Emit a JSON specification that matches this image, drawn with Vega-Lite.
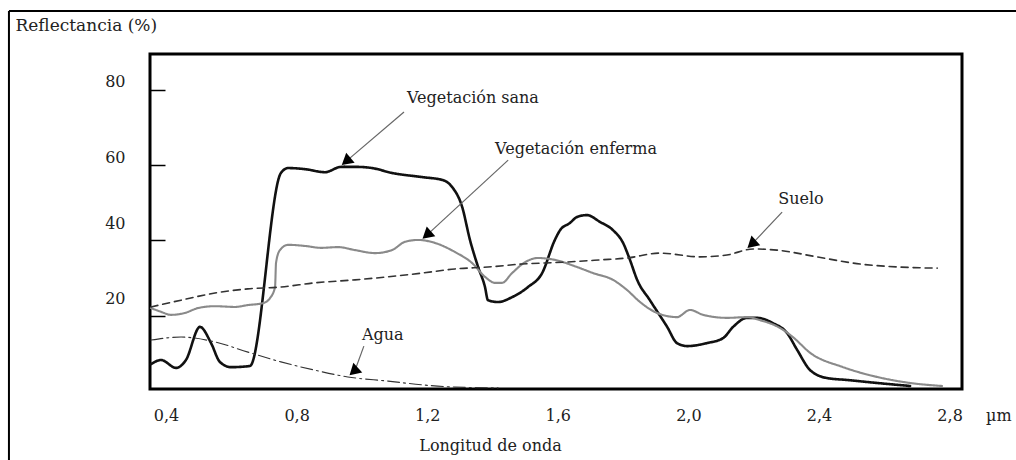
{
  "$schema": "https://vega.github.io/schema/vega-lite/v6.json",
  "width": 812,
  "height": 335,
  "autosize": {"type": "none"},
  "padding": {"left": 150, "top": 54, "right": 54, "bottom": 71},
  "background": "white",
  "data": {"values": [{}]},
  "config": {
    "view": {"stroke": "black", "strokeWidth": 3},
    "font": "DejaVu Serif",
    "text": {"font": "DejaVu Serif"},
    "axis": {"labelFont": "DejaVu Serif", "titleFont": "DejaVu Serif", "labelColor": "#222", "titleColor": "#222", "titleFontWeight": "normal", "grid": false, "domain": false}
  },
  "datasets": {
    "curves": [
      {"s":"sana","x":0.354,"v":7.1},{"s":"sana","x":0.385,"v":8.2},{"s":"sana","x":0.431,"v":6.1},{"s":"sana","x":0.461,"v":8.2},{"s":"sana","x":0.504,"v":17.0},{"s":"sana","x":0.538,"v":12.7},{"s":"sana","x":0.565,"v":7.7},{"s":"sana","x":0.599,"v":6.3},{"s":"sana","x":0.657,"v":6.6},{"s":"sana","x":0.752,"v":57.9},{"s":"sana","x":0.774,"v":59.2},{"s":"sana","x":0.826,"v":58.9},{"s":"sana","x":0.887,"v":58.1},{"s":"sana","x":0.936,"v":59.5},{"s":"sana","x":0.988,"v":59.5},{"s":"sana","x":1.031,"v":59.2},{"s":"sana","x":1.092,"v":57.9},{"s":"sana","x":1.184,"v":56.8},{"s":"sana","x":1.248,"v":56.0},{"s":"sana","x":1.276,"v":54.2},{"s":"sana","x":1.307,"v":48.9},{"s":"sana","x":1.331,"v":40.1},{"s":"sana","x":1.356,"v":32.9},{"s":"sana","x":1.377,"v":27.6},{"s":"sana","x":1.386,"v":24.1},{"s":"sana","x":1.417,"v":23.6},{"s":"sana","x":1.460,"v":24.9},{"s":"sana","x":1.509,"v":27.6},{"s":"sana","x":1.552,"v":31.3},{"s":"sana","x":1.591,"v":40.1},{"s":"sana","x":1.607,"v":42.7},{"s":"sana","x":1.637,"v":44.6},{"s":"sana","x":1.659,"v":46.2},{"s":"sana","x":1.689,"v":46.7},{"s":"sana","x":1.729,"v":44.9},{"s":"sana","x":1.769,"v":42.7},{"s":"sana","x":1.800,"v":39.3},{"s":"sana","x":1.821,"v":34.8},{"s":"sana","x":1.843,"v":29.5},{"s":"sana","x":1.882,"v":24.1},{"s":"sana","x":1.935,"v":17.0},{"s":"sana","x":1.965,"v":12.7},{"s":"sana","x":1.996,"v":11.9},{"s":"sana","x":2.057,"v":12.7},{"s":"sana","x":2.106,"v":14.0},{"s":"sana","x":2.137,"v":17.0},{"s":"sana","x":2.180,"v":19.4},{"s":"sana","x":2.210,"v":19.4},{"s":"sana","x":2.259,"v":18.0},{"s":"sana","x":2.302,"v":15.4},{"s":"sana","x":2.333,"v":10.9},{"s":"sana","x":2.373,"v":5.5},{"s":"sana","x":2.425,"v":3.4},{"s":"sana","x":2.486,"v":2.9},{"s":"sana","x":2.578,"v":2.1},{"s":"sana","x":2.679,"v":1.3},
      {"s":"enferma","x":0.354,"v":22.0},{"s":"enferma","x":0.385,"v":21.0},{"s":"enferma","x":0.415,"v":20.2},{"s":"enferma","x":0.458,"v":20.7},{"s":"enferma","x":0.498,"v":22.0},{"s":"enferma","x":0.550,"v":22.5},{"s":"enferma","x":0.611,"v":22.3},{"s":"enferma","x":0.651,"v":22.8},{"s":"enferma","x":0.697,"v":23.3},{"s":"enferma","x":0.719,"v":24.7},{"s":"enferma","x":0.734,"v":27.6},{"s":"enferma","x":0.737,"v":34.0},{"s":"enferma","x":0.749,"v":37.4},{"s":"enferma","x":0.774,"v":38.8},{"s":"enferma","x":0.826,"v":38.5},{"s":"enferma","x":0.875,"v":38.0},{"s":"enferma","x":0.927,"v":38.2},{"s":"enferma","x":0.979,"v":37.4},{"s":"enferma","x":1.040,"v":36.6},{"s":"enferma","x":1.092,"v":37.4},{"s":"enferma","x":1.132,"v":39.6},{"s":"enferma","x":1.172,"v":40.1},{"s":"enferma","x":1.224,"v":39.3},{"s":"enferma","x":1.285,"v":36.9},{"s":"enferma","x":1.337,"v":34.0},{"s":"enferma","x":1.377,"v":30.3},{"s":"enferma","x":1.408,"v":28.7},{"s":"enferma","x":1.429,"v":28.7},{"s":"enferma","x":1.460,"v":31.3},{"s":"enferma","x":1.500,"v":34.2},{"s":"enferma","x":1.539,"v":35.3},{"s":"enferma","x":1.591,"v":34.8},{"s":"enferma","x":1.659,"v":32.9},{"s":"enferma","x":1.708,"v":31.3},{"s":"enferma","x":1.769,"v":29.5},{"s":"enferma","x":1.812,"v":26.8},{"s":"enferma","x":1.852,"v":23.6},{"s":"enferma","x":1.904,"v":20.7},{"s":"enferma","x":1.965,"v":19.6},{"s":"enferma","x":2.005,"v":21.5},{"s":"enferma","x":2.045,"v":20.2},{"s":"enferma","x":2.118,"v":19.4},{"s":"enferma","x":2.180,"v":19.6},{"s":"enferma","x":2.219,"v":18.8},{"s":"enferma","x":2.281,"v":16.7},{"s":"enferma","x":2.320,"v":14.3},{"s":"enferma","x":2.373,"v":10.1},{"s":"enferma","x":2.474,"v":6.3},{"s":"enferma","x":2.578,"v":3.7},{"s":"enferma","x":2.679,"v":2.1},{"s":"enferma","x":2.777,"v":1.3},
      {"s":"suelo","x":0.354,"v":22.3},{"s":"suelo","x":0.446,"v":24.1},{"s":"suelo","x":0.550,"v":26.0},{"s":"suelo","x":0.651,"v":27.1},{"s":"suelo","x":0.752,"v":27.6},{"s":"suelo","x":0.856,"v":28.7},{"s":"suelo","x":0.979,"v":29.5},{"s":"suelo","x":1.080,"v":30.3},{"s":"suelo","x":1.184,"v":31.3},{"s":"suelo","x":1.285,"v":32.4},{"s":"suelo","x":1.386,"v":32.9},{"s":"suelo","x":1.490,"v":33.7},{"s":"suelo","x":1.622,"v":34.2},{"s":"suelo","x":1.729,"v":34.8},{"s":"suelo","x":1.812,"v":35.3},{"s":"suelo","x":1.913,"v":36.6},{"s":"suelo","x":2.036,"v":35.6},{"s":"suelo","x":2.118,"v":36.1},{"s":"suelo","x":2.198,"v":37.7},{"s":"suelo","x":2.271,"v":37.4},{"s":"suelo","x":2.394,"v":35.6},{"s":"suelo","x":2.526,"v":33.7},{"s":"suelo","x":2.648,"v":32.9},{"s":"suelo","x":2.762,"v":32.6},
      {"s":"agua","x":0.354,"v":13.5},{"s":"agua","x":0.446,"v":14.3},{"s":"agua","x":0.550,"v":13.0},{"s":"agua","x":0.651,"v":10.3},{"s":"agua","x":0.752,"v":7.7},{"s":"agua","x":0.856,"v":5.5},{"s":"agua","x":0.957,"v":3.7},{"s":"agua","x":1.080,"v":2.6},{"s":"agua","x":1.184,"v":1.6},{"s":"agua","x":1.285,"v":1.0},{"s":"agua","x":1.417,"v":0.8}
    ],
    "notes": [
      {"label":"Vegetación sana","x0":1.129,"y0":74.1,"x1":0.956,"y1":61.3,"tx":1.138,"ty":77.8},
      {"label":"Vegetación enferma","x0":1.448,"y0":61.3,"x1":1.203,"y1":41.7,"tx":1.408,"ty":64.3},
      {"label":"Suelo","x0":2.287,"y0":47.5,"x1":2.198,"y1":39.3,"tx":2.275,"ty":51.0},
      {"label":"Agua","x0":1.006,"y0":11.9,"x1":0.979,"y1":5.5,"tx":1.0,"ty":14.8}
    ]
  },
  "layer": [
    {
      "data": {"name": "curves"},
      "mark": {"type": "line", "interpolate": "monotone", "strokeCap": "round"},
      "encoding": {
        "x": {"field": "x", "type": "quantitative", "scale": {"domain": [0.351, 2.838], "nice": false, "zero": false},
          "axis": {"values": [0.4, 0.8, 1.2, 1.6, 2.0, 2.4, 2.8], "labelExpr": "replace(format(datum.value, '.1f'), '.', ',')", "ticks": false, "labelPadding": 18, "labelFontSize": 16, "title": "Longitud de onda", "titleFontSize": 16, "titleX": 340, "titleY": 56, "titleAlign": "center", "titleBaseline": "middle"}},
        "y": {"field": "v", "type": "quantitative", "scale": {"domain": [0.5, 89.5], "nice": false, "zero": false},
          "axis": {"values": [20, 40, 60, 80], "tickSize": -15, "tickColor": "black", "tickWidth": 1.5, "labelPadding": 40, "labelOffset": {"condition": {"test": "datum.value < 50", "value": -17}, "value": -8}, "labelFontSize": 16, "title": "Reflectancia (%)", "titleFontSize": 17, "titleAngle": 0, "titleX": -135, "titleY": -29, "titleAlign": "left", "titleBaseline": "middle"}},
        "detail": {"field": "s"},
        "color": {"field": "s", "type": "nominal", "scale": {"domain": ["sana", "enferma", "suelo", "agua"], "range": ["#111111", "#8a8a8a", "#333333", "#333333"]}, "legend": null},
        "strokeWidth": {"field": "s", "type": "nominal", "scale": {"domain": ["sana", "enferma", "suelo", "agua"], "range": [2.6, 1.1, 2, 1.5]}, "legend": null},
        "strokeDash": {"field": "s", "type": "nominal", "scale": {"domain": ["sana", "enferma", "suelo", "agua"], "range": [[1, 0], [1, 0], [7, 5], [12, 4, 2, 4]]}, "legend": null}
      }
    },
    {
      "data": {"name": "notes"},
      "mark": {"type": "rule", "color": "#666666", "strokeWidth": 1.2},
      "encoding": {
        "x": {"field": "x0", "type": "quantitative", "scale": {"domain": [0.351, 2.838], "nice": false, "zero": false}},
        "y": {"field": "y0", "type": "quantitative", "scale": {"domain": [0.5, 89.5], "nice": false, "zero": false}},
        "x2": {"field": "x1"},
        "y2": {"field": "y1"}
      }
    },
    {
      "data": {"name": "notes"},
      "mark": {"type": "point", "shape": "triangle", "filled": true, "color": "black", "opacity": 1, "size": 170},
      "encoding": {
        "x": {"field": "x1", "type": "quantitative", "scale": {"domain": [0.351, 2.838], "nice": false, "zero": false}},
        "y": {"field": "y1", "type": "quantitative", "scale": {"domain": [0.5, 89.5], "nice": false, "zero": false}},
        "angle": {"field": "label", "type": "nominal", "scale": {"domain": ["Vegetación sana", "Vegetación enferma", "Suelo", "Agua"], "range": [230, 227, 223, 200]}, "legend": null}
      }
    },
    {
      "data": {"name": "notes"},
      "mark": {"type": "text", "align": "left", "baseline": "middle", "fontSize": 16, "color": "#222222"},
      "encoding": {
        "x": {"field": "tx", "type": "quantitative", "scale": {"domain": [0.351, 2.838], "nice": false, "zero": false}},
        "y": {"field": "ty", "type": "quantitative", "scale": {"domain": [0.5, 89.5], "nice": false, "zero": false}},
        "text": {"field": "label"}
      }
    },
    {
      "mark": {"type": "text", "align": "center", "baseline": "middle", "fontSize": 16, "color": "#222222", "text": "µm"},
      "encoding": {
        "x": {"datum": 2.951, "type": "quantitative", "scale": {"domain": [0.351, 2.838], "nice": false, "zero": false}},
        "y": {"datum": -6.6, "type": "quantitative", "scale": {"domain": [0.5, 89.5], "nice": false, "zero": false}}
      }
    },
    {
      "mark": {"type": "rule", "color": "black", "strokeWidth": 2},
      "encoding": {
        "x": {"datum": -0.081, "type": "quantitative", "scale": {"domain": [0.351, 2.838], "nice": false, "zero": false}},
        "x2": {"datum": 3.1},
        "y": {"datum": 100.9, "type": "quantitative", "scale": {"domain": [0.5, 89.5], "nice": false, "zero": false}}
      }
    },
    {
      "mark": {"type": "rule", "color": "black", "strokeWidth": 2},
      "encoding": {
        "x": {"datum": -0.081, "type": "quantitative", "scale": {"domain": [0.351, 2.838], "nice": false, "zero": false}},
        "y": {"datum": 100.9, "type": "quantitative", "scale": {"domain": [0.5, 89.5], "nice": false, "zero": false}},
        "y2": {"datum": -25}
      }
    }
  ]
}
